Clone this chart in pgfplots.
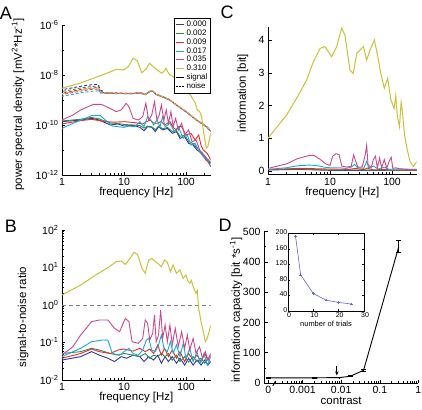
\documentclass[border=0pt]{standalone}
\usepackage{pgfplots}
\pgfplotsset{compat=1.18}
\usepackage{fontspec}
\setmainfont{Liberation Sans}
\usetikzlibrary{arrows.meta}
\definecolor{cBlue}{HTML}{333399}
\definecolor{cGreen}{HTML}{2E8B57}
\definecolor{cRed}{HTML}{EE2A24}
\definecolor{cCyan}{HTML}{1AAAD8}
\definecolor{cMag}{HTML}{C94A8C}
\definecolor{cYel}{HTML}{C9C23A}
\definecolor{cInset}{HTML}{6666CC}
\pgfplotsset{
 panel/.style={scale only axis, anchor=south west, axis x line*=bottom, axis y line*=left,
  tick align=inside, major tick length=3.5pt, minor tick length=2pt,
  tick style={black, line width=0.5pt}, axis line style={line width=0.6pt},
  ticklabel style={font=\fontsize{10.5}{11}\selectfont},
  label style={font=\fontsize{11.5}{13}\selectfont},
  every axis plot/.append style={line width=0.9pt},
  /pgf/number format/assume math mode=true},
 freqx/.style={xmin=1, xmax=250, xtick={1,10,100}, xticklabels={1,10,100},
  minor xtick={2,3,4,5,6,7,8,9,20,30,40,50,60,70,80,90,200}, xlabel={frequency [Hz]}},
 nz/.style={dash pattern=on 3pt off 2pt, dash phase=#1, line width=0.9pt},
}
\begin{document}
\begin{tikzpicture}[x=1pt,y=1pt]
\path[use as bounding box] (0,0) rectangle (422pt,409pt);
% ---------------- A
\begin{axis}[xmode=log, ymode=log, panel, freqx, at={(62pt,234pt)}, width=148.7pt, height=150pt,
 ymin=1e-12, ymax=1e-6,
 ytick={1e-12,1e-10,1e-8,1e-6},
 yticklabels={10\textsuperscript{-12},10\textsuperscript{-10},10\textsuperscript{-8},10\textsuperscript{-6}},
 minor ytick={1e-11,1e-9,1e-7},
 ylabel={power spectral density [mV\textsuperscript{2}*Hz\textsuperscript{-1}]},
 xlabel style={at={(axis description cs:0.5,-0.118)}, anchor=center},
 ylabel style={at={(axis description cs:-0.296,0.47)}, anchor=center},
 legend style={at={(1.0,1.047)}, anchor=north east, font=\fontsize{8}{8}\selectfont, draw=black, line width=0.5pt, inner sep=1pt, row sep=-2.3pt, cells={anchor=west}},
 legend image code/.code={\draw[#1, line width=1pt] (0cm,0cm) -- (0.3cm,0cm);},
]
\addlegendimage{cBlue}\addlegendentry{0.000}
\addlegendimage{cGreen}\addlegendentry{0.002}
\addlegendimage{cRed}\addlegendentry{0.009}
\addlegendimage{cCyan}\addlegendentry{0.017}
\addlegendimage{cMag}\addlegendentry{0.035}
\addlegendimage{cYel}\addlegendentry{0.310}
\addlegendimage{black}\addlegendentry{signal}
\addlegendimage{black, dash pattern=on 2pt off 1pt}\addlegendentry{noise}
% noise
\addplot[cBlue, nz=2.5pt, forget plot] coordinates {(1,2.58e-9)(1.5,3.09e-9)(2,3.55e-9)(3,4.08e-9)(3.8,4.27e-9)(4.2,2.5e-9)(5,1.97e-9)(7,1.92e-9)(10,1.87e-9)(14,1.87e-9)(18,1.97e-9)(22,1.7e-9)(26,2.25e-9)(29,2.36e-9)(33,1.7e-9)(40,1.45e-9)(55,1.03e-9)(70,6.5e-10)(100,3.5e-10)(148,1.63e-10)(215,8.8e-11)(250,5.8e-11)};
\addplot[cGreen, nz=4pt, forget plot] coordinates {(1,2.2e-9)(1.5,2.63e-9)(2,3.02e-9)(3,3.47e-9)(3.8,3.63e-9)(4.2,2.3e-9)(5,1.93e-9)(7,1.88e-9)(10,1.84e-9)(14,1.84e-9)(18,1.93e-9)(22,1.68e-9)(26,2.21e-9)(29,2.31e-9)(33,1.68e-9)(40,1.42e-9)(55,1.01e-9)(70,6.4e-10)(100,3.42e-10)(148,1.6e-10)(215,8.6e-11)(250,5.7e-11)};
\addplot[cCyan, nz=1pt, forget plot] coordinates {(1,1.41e-9)(1.5,1.69e-9)(2,1.95e-9)(3,2.23e-9)(3.8,2.34e-9)(4.2,1.88e-9)(5,1.85e-9)(7,1.8e-9)(10,1.77e-9)(14,1.77e-9)(18,1.85e-9)(22,1.61e-9)(26,2.12e-9)(29,2.22e-9)(33,1.61e-9)(40,1.37e-9)(55,0.97e-9)(70,6.12e-10)(100,3.29e-10)(148,1.53e-10)(215,8.2e-11)(250,5.45e-11)};
\addplot[cRed, nz=3pt, forget plot] coordinates {(1,1.91e-9)(1.5,2.29e-9)(2,2.63e-9)(3,3.02e-9)(3.8,3.16e-9)(4.2,2.09e-9)(5,1.91e-9)(7,1.86e-9)(10,1.82e-9)(14,1.82e-9)(18,1.91e-9)(22,1.66e-9)(26,2.19e-9)(29,2.29e-9)(33,1.66e-9)(40,1.41e-9)(55,1.0e-9)(70,6.31e-10)(100,3.39e-10)(148,1.58e-10)(215,8.5e-11)(250,5.62e-11)};
\addplot[cMag, nz=2pt, forget plot] coordinates {(1,1.66e-9)(1.5,1.99e-9)(2,2.29e-9)(3,2.63e-9)(3.8,2.75e-9)(4.2,1.99e-9)(5,1.89e-9)(7,1.84e-9)(10,1.8e-9)(14,1.8e-9)(18,1.89e-9)(22,1.64e-9)(26,2.17e-9)(29,2.27e-9)(33,1.64e-9)(40,1.4e-9)(55,0.99e-9)(70,6.25e-10)(100,3.36e-10)(148,1.56e-10)(215,8.4e-11)(250,5.56e-11)};
\addplot[cYel, nz=0pt, forget plot] coordinates {(1,1.81e-9)(1.5,2.18e-9)(2,2.5e-9)(3,2.87e-9)(3.8,3.0e-9)(4.2,2.09e-9)(5,1.95e-9)(7,1.9e-9)(10,1.86e-9)(14,1.86e-9)(18,1.95e-9)(22,1.69e-9)(26,2.23e-9)(29,2.34e-9)(33,1.69e-9)(40,1.44e-9)(55,1.02e-9)(70,6.44e-10)(100,3.46e-10)(148,1.61e-10)(215,8.7e-11)(250,5.7e-11)};
% signal
\addplot[cBlue, forget plot] coordinates {(1,1.36e-10)(2,1.58e-10)(3,1.85e-10)(4,1.58e-10)(6,1.0e-10)(8,1.1e-10)(10,9.1e-11)(14,9.7e-11)(18,8.07e-11)(21,5.93e-11)(24,8.57e-11)(28,8.07e-11)(32,5.41e-11)(36,8.57e-11)(42,6.31e-11)(50,7.36e-11)(60,4.64e-11)(70,5.41e-11)(80,2.93e-11)(95,3.41e-11)(110,1.85e-11)(130,1.58e-11)(150,1.0e-11)(180,7.36e-12)(210,3.98e-12)(250,2.93e-12)};
\addplot[cGreen, forget plot] coordinates {(1,1.45e-10)(2,1.7e-10)(3,2.0e-10)(4,1.75e-10)(6,1.2e-10)(8,1.15e-10)(10,1.05e-10)(14,1.0e-10)(18,9.5e-11)(21,7.5e-11)(24,9.0e-11)(28,8.5e-11)(32,6.5e-11)(36,9.0e-11)(42,7.0e-11)(50,8.0e-11)(60,5.5e-11)(70,6.0e-11)(80,3.5e-11)(95,4.0e-11)(110,2.2e-11)(130,1.8e-11)(150,1.2e-11)(180,8.0e-12)(210,5.0e-12)(250,3.2e-12)};
\addplot[cRed, forget plot] coordinates {(1,1.1e-10)(2,1.49e-10)(3,1.69e-10)(5,1.36e-10)(7,1.3e-10)(10,1.36e-10)(15,1.24e-10)(20,1.1e-10)(26,1.58e-10)(30,1.2e-10)(35,1.17e-10)(40,1.4e-10)(45,1.0e-10)(55,1.36e-10)(62,8e-11)(70,6.31e-11)(78,9e-11)(85,8.57e-11)(100,3.98e-11)(120,4.64e-11)(140,2.51e-11)(160,3.98e-11)(175,1.5e-11)(190,1.0e-11)(220,7.36e-12)(250,3.98e-12)};
\addplot[cCyan, forget plot] coordinates {(1,7.36e-11)(2,1.58e-10)(3,2.36e-10)(4.2,2.36e-10)(5,1.58e-10)(6.5,9.1e-11)(8,8.57e-11)(10,8.07e-11)(12,9.1e-11)(15,8.57e-11)(18,1.36e-10)(21,8.57e-11)(24,2.15e-10)(27,1.58e-10)(30,1.0e-10)(34,1.58e-10)(38,8.57e-11)(42,2.15e-10)(46,8.57e-11)(55,1.17e-10)(65,5.41e-11)(75,8.57e-11)(90,2.93e-11)(105,3.98e-11)(120,1.58e-11)(140,1.85e-11)(165,8.57e-12)(190,5.41e-12)(220,3.98e-12)(250,2.15e-12)};
\addplot[cMag, forget plot] coordinates {(1,1.58e-10)(1.5,2.51e-10)(2,3.98e-10)(3.2,6.71e-10)(4.3,6.71e-10)(5.5,5.09e-10)(7.5,3.41e-10)(9,3.98e-10)(10.8,7.36e-10)(12,5.41e-10)(14,1.85e-10)(17,1.58e-10)(20,2.15e-10)(22.5,7.36e-10)(25,1.58e-10)(28,2.51e-10)(31,8.57e-10)(34,1.58e-10)(37,2.51e-10)(40,6.31e-10)(44,1.58e-10)(48,3.98e-10)(52,1.17e-10)(57,3.41e-10)(62,8.57e-11)(68,1.85e-10)(75,6.31e-11)(85,1.17e-10)(95,3.98e-11)(110,6.31e-11)(125,2.15e-11)(145,2.51e-11)(170,8.57e-12)(200,5.41e-12)(225,3.41e-12)(250,2.15e-12)};
\addplot[cYel, line width=1pt, forget plot] coordinates {(1,2.95e-9)(1.95,4.7e-9)(3.2,7.4e-9)(5.25,1.17e-8)(7.6,1.7e-8)(9.8,1.58e-8)(11.7,2.14e-8)(14.1,4.7e-8)(16.4,3.7e-8)(19.3,1.23e-8)(22.7,1.7e-8)(25.7,2.95e-8)(29.6,2.14e-8)(34.5,1.58e-8)(40.5,1.17e-8)(44,1.4e-8)(47.6,1.86e-8)(51,1.3e-8)(55,1.0e-8)(60,9e-9)(66.5,7.4e-9)(72,6.5e-9)(80,4.0e-9)(86,5.0e-9)(93,5.4e-9)(100,3.0e-9)(109,1.86e-9)(118,1.6e-9)(131,1.0e-9)(140,8e-10)(152,4.0e-10)(165,3.5e-10)(179,2.14e-10)(190,6e-11)(202,2.5e-11)(213,1.2e-11)(224,1.35e-11)(237,2.5e-11)(250,4.7e-11)};
\end{axis}
% ---------------- B
\begin{axis}[xmode=log, ymode=log, panel, freqx, at={(62pt,29pt)}, width=148.7pt, height=150pt,
 ymin=1e-2, ymax=1e2,
 ytick={1e-2,1e-1,1,1e1,1e2},
 yticklabels={10\textsuperscript{-2},10\textsuperscript{-1},10\textsuperscript{0},10\textsuperscript{1},10\textsuperscript{2}},
 minor ytick={0.02,0.03,0.04,0.05,0.06,0.07,0.08,0.09,0.2,0.3,0.4,0.5,0.6,0.7,0.8,0.9,2,3,4,5,6,7,8,9,20,30,40,50,60,70,80,90},
 ylabel={signal-to-noise ratio},
 xlabel style={at={(axis description cs:0.5,-0.118)}, anchor=center},
 ylabel style={at={(axis description cs:-0.262,0.42)}, anchor=center},
]
\addplot[gray, dash pattern=on 4pt off 3pt, line width=0.8pt] coordinates {(1,1)(250,1)};
\addplot[cBlue] coordinates {(1,0.034)(2,0.042)(3,0.057)(4,0.046)(5.5,0.038)(7,0.031)(9,0.042)(11,0.038)(14,0.046)(18,0.042)(21,0.031)(25,0.042)(30,0.034)(35,0.046)(40,0.028)(46,0.042)(52,0.031)(60,0.042)(70,0.028)(80,0.038)(95,0.025)(110,0.038)(130,0.025)(150,0.034)(175,0.025)(200,0.034)(225,0.025)(250,0.031)};
\addplot[cGreen] coordinates {(1,0.051)(2,0.057)(3,0.07)(4,0.063)(6,0.051)(8,0.046)(10,0.051)(14,0.046)(18,0.042)(22,0.051)(26,0.038)(30,0.046)(35,0.042)(40,0.051)(46,0.042)(52,0.051)(60,0.034)(70,0.046)(80,0.031)(95,0.042)(110,0.03)(130,0.042)(150,0.031)(175,0.038)(200,0.028)(225,0.038)(250,0.03)};
\addplot[cRed] coordinates {(1,0.038)(2,0.051)(3,0.067)(4,0.057)(6,0.051)(8,0.063)(10,0.067)(14,0.059)(18,0.07)(22,0.057)(26,0.067)(30,0.051)(35,0.086)(40,0.046)(45,0.07)(52,0.042)(60,0.063)(70,0.038)(80,0.057)(95,0.031)(110,0.051)(130,0.034)(150,0.046)(175,0.031)(200,0.051)(225,0.034)(250,0.046)};
\addplot[cCyan] coordinates {(1,0.042)(2,0.07)(3,0.105)(4.5,0.117)(5.5,0.115)(6.5,0.051)(8.5,0.046)(10,0.057)(12,0.07)(14,0.051)(17,0.046)(20,0.063)(23,0.117)(25,0.129)(28,0.063)(32,0.057)(36,0.086)(40,0.158)(44,0.07)(50,0.057)(56,0.105)(62,0.051)(70,0.086)(80,0.042)(90,0.095)(100,0.038)(115,0.07)(130,0.031)(150,0.057)(170,0.028)(195,0.051)(220,0.025)(250,0.042)};
\addplot[cMag] coordinates {(1,0.0464)(1.5,0.0774)(2,0.158)(3,0.359)(4,0.398)(5.5,0.398)(7,0.239)(8.5,0.194)(10.5,0.441)(12,0.359)(13.5,0.105)(17,0.095)(20,0.129)(22,0.398)(24,0.325)(26,0.117)(29,0.176)(31,0.541)(33,0.105)(36,0.158)(39,0.736)(42,0.129)(46,0.293)(50,0.105)(55,0.293)(60,0.0858)(67,0.239)(75,0.0774)(85,0.194)(95,0.0699)(105,0.158)(115,0.0631)(130,0.129)(145,0.0514)(165,0.0774)(185,0.0378)(205,0.057)(225,0.0341)(250,0.0514)};
\addplot[cYel, line width=1pt] coordinates {(1,1.85)(2,3.4)(3.5,6.3)(5.5,9.9)(7.5,14.3)(9,14.9)(10.5,12.1)(12.5,17.5)(14.5,25.4)(16.5,22.4)(19.5,9.5)(22,7.0)(25,15.8)(28,17.5)(31,14.9)(35,12.9)(40,10.5)(45,15.8)(50,13.7)(56,7.7)(62,11.7)(70,7.0)(80,8.6)(90,5.1)(100,6.3)(108,4.2)(115,3.8)(122,4.5)(130,3.1)(145,2.05)(152,2.4)(160,0.81)(175,0.36)(190,0.19)(205,0.105)(220,0.13)(235,0.19)(250,0.29)};
\end{axis}
% ---------------- C
\begin{axis}[xmode=log, panel, freqx, at={(268pt,234.7pt)}, width=148.7pt, height=147.4pt,
 ymin=-0.1, ymax=4.4, ytick={0,1,2,3,4},
 ylabel={information [bit]},
 xlabel style={at={(axis description cs:0.5,-0.127)}, anchor=center},
 ylabel style={at={(axis description cs:-0.168,0.55)}, anchor=center},
]
\addplot[cBlue] coordinates {(1,0.03)(3,0.05)(10,0.02)(30,0.02)(100,0.02)(250,0.02)};
\addplot[cGreen] coordinates {(1,0.05)(3,0.06)(10,0.03)(30,0.03)(100,0.02)(250,0.02)};
\addplot[cRed] coordinates {(1,0.04)(3,0.08)(6,0.07)(10,0.06)(20,0.05)(26,0.08)(35,0.04)(40,0.09)(50,0.03)(70,0.05)(100,0.03)(250,0.03)};
\addplot[cCyan] coordinates {(1,0.05)(2,0.1)(3,0.16)(4.5,0.18)(6,0.17)(8,0.12)(10,0.1)(14,0.1)(18,0.08)(22,0.12)(25,0.2)(28,0.1)(35,0.08)(39,0.3)(42,0.1)(50,0.15)(60,0.06)(75,0.12)(90,0.05)(120,0.06)(250,0.04)};
\addplot[cMag] coordinates {(1,0.08)(2,0.22)(3,0.38)(4.5,0.47)(5.5,0.48)(7,0.35)(8.5,0.22)(10,0.17)(11,0.45)(12.5,0.53)(14,0.5)(15.5,0.15)(19,0.12)(22,0.15)(24,0.49)(26,0.3)(28,0.12)(33,0.12)(37,0.5)(39,0.79)(41,0.2)(46,0.1)(50,0.35)(54,0.45)(58,0.1)(63,0.4)(68,0.1)(75,0.35)(82,0.08)(90,0.3)(97,0.42)(103,0.08)(115,0.1)(130,0.07)(160,0.06)(200,0.05)(250,0.05)};
\addplot[cYel, line width=1pt] coordinates {(1,1.0)(2,1.71)(3.1,2.32)(4.2,2.78)(5.4,3.34)(6.9,3.74)(8.3,3.8)(10.6,3.49)(12.8,3.8)(15.4,4.36)(17.4,4.15)(21,3.08)(23.7,2.98)(27,3.59)(30.4,3.69)(34.5,3.8)(39,3.39)(44,3.69)(52,4.0)(59,3.49)(66,2.98)(75,2.53)(85,2.83)(96,2.17)(108,1.91)(115,2.3)(122,1.66)(132,1.35)(140,2.1)(146,1.86)(158,1.15)(172,0.74)(195,0.29)(221,0.14)(250,0.29)};
\end{axis}
% ---------------- D
\begin{axis}[xmode=log, panel, at={(264pt,26pt)}, width=154.4pt, height=151.5pt, clip=false,
 xmin=1e-4, xmax=1, ymin=0, ymax=500,
 xtick={1.3e-4,1e-3,1e-2,1e-1,1}, xticklabels={0,0.001,0.01,0.1,1},
 minor xtick={2e-4,3e-4,4e-4,5e-4,6e-4,7e-4,8e-4,9e-4,2e-3,3e-3,4e-3,5e-3,6e-3,7e-3,8e-3,9e-3,0.02,0.03,0.04,0.05,0.06,0.07,0.08,0.09,0.2,0.3,0.4,0.5,0.6,0.7,0.8,0.9},
 ytick={0,100,200,300,400,500}, minor ytick={50,150,250,350,450},
 xlabel={contrast}, ylabel={information capacity [bit *s\textsuperscript{-1}]},
 xlabel style={at={(axis description cs:0.5,-0.115)}, anchor=center},
 ylabel style={at={(axis description cs:-0.181,0.48)}, anchor=center},
]
\addplot[black, line width=0.9pt, error bars/.cd, y dir=both, y explicit,
 error bar style={line width=0.8pt}, error mark options={rotate=90, mark size=2.5pt, line width=0.8pt}]
 coordinates {(1.3e-4,17) +- (0,3) (0.002,17) +- (0,1) (0.009,18) +- (0,1) (0.017,22) +- (0,1.5) (0.038,42) +- (0,4) (0.31,450) +- (0,19)};
\draw[-{Stealth[length=4pt,width=3.5pt]}, line width=0.8pt] (axis cs:0.0077,56) -- (axis cs:0.0077,25);
\draw[line width=1pt] (axis cs:1.7e-4,-9) -- (axis cs:2.0e-4,7);
\end{axis}
% inset
\begin{axis}[scale only axis, anchor=south west, at={(288pt,98pt)}, width=76pt, height=77.7pt,
 xmin=0, xmax=30, ymin=0, ymax=200, xtick={0,10,20,30}, ytick={0,40,80,120,160,200},
 tick align=inside, major tick length=2pt, tick style={black, line width=0.4pt},
 axis line style={line width=0.5pt}, axis background/.style={fill=white},
 ticklabel style={font=\fontsize{7}{7}\selectfont, inner sep=0.5pt}, /pgf/number format/assume math mode=true,
 xticklabel style={yshift=-0.5pt, xshift=1pt}, yticklabel style={xshift=0pt, yshift=1pt},
 xlabel={number of trials}, xlabel style={font=\fontsize{7.5}{8}\selectfont, at={(axis description cs:0.5,-0.17)}, anchor=center},
]
\addplot[cInset, line width=0.6pt, mark=+, mark size=1.3pt] coordinates {(3,191)(5,93)(10,45)(15,28)(20,22)(25,18)};
\end{axis}
% panel letters
\node[font=\fontsize{18}{18}\selectfont] at (6pt,396pt) {A};
\node[font=\fontsize{18}{18}\selectfont] at (11pt,183pt) {B};
\node[font=\fontsize{18}{18}\selectfont] at (227pt,397pt) {C};
\node[font=\fontsize{18}{18}\selectfont] at (225pt,184pt) {D};
\end{tikzpicture}
\end{document}
